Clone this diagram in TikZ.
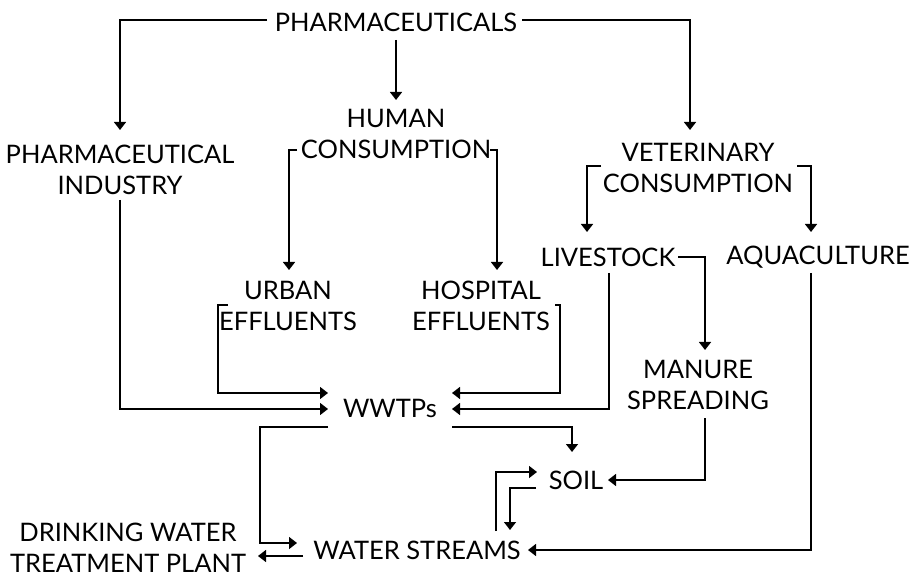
\documentclass[tikz,border=0pt]{standalone}
\usepackage{fontspec}
\setmainfont{Lato}
\usetikzlibrary{arrows.meta}
\begin{document}
\begin{tikzpicture}[x=1pt,y=-1pt,
  lbl/.style={inner sep=0pt,align=center,font=\fontsize{25.5}{31}\selectfont},
  arr/.style={line width=1.5pt,-{Triangle[width=12pt,length=8pt]}}]
\useasboundingbox (0,0) rectangle (916,577);
\node[lbl] (ph) at (396,22) {PHARMACEUTICALS};
\node[lbl] (pi) at (120,170) {PHARMACEUTICAL\\INDUSTRY};
\node[lbl] (hc) at (396,134) {HUMAN\\CONSUMPTION};
\node[lbl] (vc) at (698,168) {VETERINARY\\CONSUMPTION};
\node[lbl] (ue) at (288,306) {URBAN\\EFFLUENTS};
\node[lbl] (he) at (481,306) {HOSPITAL\\EFFLUENTS};
\node[lbl] (ls) at (608,257) {LIVESTOCK};
\node[lbl] (aq) at (818,257) {AQUACULTURE};
\node[lbl] (ms) at (698,385) {MANURE\\SPREADING};
\node[lbl] (ww) at (390,408) {WWTPs};
\node[lbl] (so) at (576,480) {SOIL};
\node[lbl] (ws) at (417,550) {WATER STREAMS};
\node[lbl] (dw) at (128,548) {DRINKING WATER\\TREATMENT PLANT};
% pharmaceuticals
\draw[arr] ([shift={(-129,-2)}]ph.center) -| ([shift={(0,-40)}]pi.center);
\draw[arr] ([shift={(0,18)}]ph.center) -- ([shift={(0,-34)}]hc.center);
\draw[arr] ([shift={(126,-2)}]ph.center) -| ([shift={(-8,-38)}]vc.center);
% human consumption
\draw[arr] ([shift={(-99,16)}]hc.center) -| ([shift={(1,-36)}]ue.center);
\draw[arr] ([shift={(94,16)}]hc.center) -| ([shift={(16,-36)}]he.center);
% veterinary consumption
\draw[arr] ([shift={(-97,-2)}]vc.center) -| ([shift={(-21,-25)}]ls.center);
\draw[arr] ([shift={(99,-2)}]vc.center) -| ([shift={(-7,-25)}]aq.center);
% livestock
\draw[arr] ([shift={(70,0)}]ls.center) -| ([shift={(7,-35)}]ms.center);
\draw[arr] ([shift={(1,16)}]ls.center) |- ([shift={(62,1)}]ww.center);
% aquaculture
\draw[arr] ([shift={(-7,16)}]aq.center) |- ([shift={(111,0)}]ws.center);
% effluents
\draw[arr] ([shift={(74,-1)}]he.center) -- ++(5,0) |- ([shift={(62,-15)}]ww.center);
\draw[arr] ([shift={(-60,-1)}]ue.center) -- ++(-10,0) |- ([shift={(-62,-15)}]ww.center);
% industry
\draw[arr] ([shift={(0,30)}]pi.center) |- ([shift={(-62,1)}]ww.center);
% wwtps
\draw[arr] ([shift={(62,19)}]ww.center) -| ([shift={(-4,-28)}]so.center);
\draw[arr] ([shift={(-62,19)}]ww.center) -- ++(-68,0) |- ([shift={(-120,-7)}]ws.center);
% water streams
\draw[arr] ([shift={(-114,6)}]ws.center) -- ([shift={(130,8)}]dw.center);
\draw[arr] ([shift={(79,-19)}]ws.center) |- ([shift={(-39,-8)}]so.center);
% soil
\draw[arr] ([shift={(-40,8)}]so.center) -| ([shift={(93,-20)}]ws.center);
% manure
\draw[arr] ([shift={(7,33)}]ms.center) |- ([shift={(32,0)}]so.center);
\end{tikzpicture}
\end{document}
